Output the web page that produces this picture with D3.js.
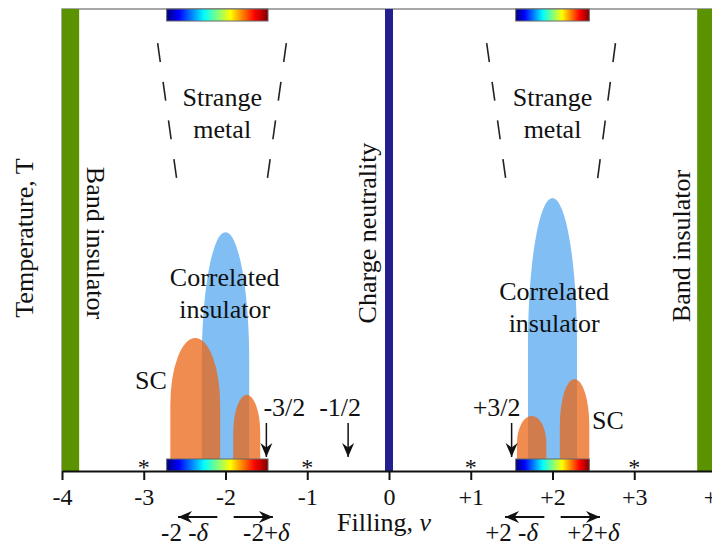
<!DOCTYPE html>
<html>
<head>
<meta charset="utf-8">
<script src="https://cdn.jsdelivr.net/npm/d3@7"></script>
<style>
  body { margin: 0; background: #fff; }
</style>
</head>
<body>
<svg id="chart" width="712" height="547"></svg>
<script>
// filling axis
var fillingTicks = [-4, -3, -2, -1, 0, 1, 2, 3, 4];
var tickLabels = ["-4", "-3", "-2", "-1", "0", "+1", "+2", "+3", "+4"];

// correlated insulator domes (filling centre, half width, top temperature)
var insulatorCentres = [-2.0, 2.0];
var insulatorHalfWidths = [0.29, 0.30];
var insulatorTops = [51.7, 59.1];

// superconducting domes
var scCentres = [-2.37, -1.74, 1.745, 2.27];
var scHalfWidths = [0.305, 0.165, 0.18, 0.18];
var scTops = [28.8, 16.5, 11.9, 19.9];

// integer fillings marked with a star, half-integer fillings marked with an arrow
var starFillings = [-3, -1, 1, 3];
var arrowFillings = [-1.5, -0.5, 1.5];
var arrowLabels = ["-3/2", "-1/2", "+3/2"];

// colour bars and band insulator strips (filling ranges)
var colorbarRanges = [[-2.72, -1.48], [1.55, 2.45]];
var bandRanges = [[-4, -3.79], [3.77, 4]];

// strange metal boundaries: filling at the top and at the bottom of each dashed line
var strangeTopT = 92.6, strangeBottomT = 61.7;
var strangeLines = [[-2.83, -2.585], [-1.256, -1.50], [1.195, 1.44], [2.77, 2.54]];

var FONT = "Liberation Serif";
var svg = d3.select("#chart").attr("font-family", FONT);
var x = d3.scaleLinear().domain([-4, 4]).range([62, 716]);
var y = d3.scaleLinear().domain([0, 100]).range([471, 9]);

var defs = svg.append("defs");
var jet = defs.append("linearGradient").attr("id", "jet");
[["0", "#00007f"], ["0.12", "#0000ff"], ["0.37", "#00ffff"], ["0.5", "#7fff7f"],
 ["0.63", "#ffff00"], ["0.87", "#ff0000"], ["1", "#7f0000"]].forEach(function(s) {
  jet.append("stop").attr("offset", s[0]).attr("stop-color", s[1]);
});
defs.append("marker").attr("id", "head").attr("markerUnits", "userSpaceOnUse")
  .attr("viewBox", "-15 -7 16 14").attr("refX", 0).attr("refY", 0)
  .attr("markerWidth", 16).attr("markerHeight", 14).attr("orient", "auto")
  .append("path").attr("d", "M0,0L-14,-6L-9.5,0L-14,6Z").attr("fill", "#111");

function domePath(c, hw, top, frac) {
  var x0 = x(c - hw), x1 = x(c + hw), yb = y(0), yt = y(top), ys = y(top * frac);
  var rx = (x1 - x0) / 2, ry = ys - yt;
  return "M" + x0 + "," + yb + "L" + x0 + "," + ys +
    "A" + rx + "," + ry + " 0 0 1 " + x1 + "," + ys + "L" + x1 + "," + yb + "Z";
}

// frame
svg.append("path").attr("d", "M" + x(-4) + "," + y(0) + "V" + y(100) + "H712")
  .attr("fill", "none").attr("stroke", "#8a8a8a").attr("stroke-width", 1.5);

// correlated insulator
svg.selectAll(".ci").data(insulatorCentres).enter().append("path")
  .attr("d", function(d, i) { return domePath(d, insulatorHalfWidths[i], insulatorTops[i], 0.46); })
  .attr("fill", "#80bef4");

// superconductor
svg.selectAll(".sc").data(scCentres).enter().append("path")
  .attr("d", function(d, i) { return domePath(d, scHalfWidths[i], scTops[i], 0.5); })
  .attr("fill", "rgb(235,102,22)").attr("fill-opacity", 0.75);

// band insulators and charge neutrality
svg.selectAll(".band").data(bandRanges).enter().append("rect")
  .attr("x", function(d) { return x(d[0]); }).attr("width", function(d) { return x(d[1]) - x(d[0]); })
  .attr("y", y(100)).attr("height", y(0) - y(100)).attr("fill", "#5b9200");
svg.append("rect").attr("x", x(0) - 4).attr("width", 8).attr("y", y(100)).attr("height", y(0) - y(100))
  .attr("fill", "#231f91");

// colour bars, top and bottom
colorbarRanges.forEach(function(r) {
  [y(100), y(0) - 12].forEach(function(top) {
    svg.append("rect").attr("x", x(r[0])).attr("width", x(r[1]) - x(r[0]))
      .attr("y", top).attr("height", 12).attr("fill", "url(#jet)")
      .attr("stroke", "#666").attr("stroke-width", 1);
  });
});

// strange metal boundaries
svg.selectAll(".sm").data(strangeLines).enter().append("line")
  .attr("x1", function(d) { return x(d[0]); }).attr("y1", y(strangeTopT))
  .attr("x2", function(d) { return x(d[1]); }).attr("y2", y(strangeBottomT))
  .attr("stroke", "#222").attr("stroke-width", 1.6).attr("stroke-dasharray", "19,20");

// axis
var axis = svg.append("g").attr("transform", "translate(0," + y(0) + ")")
  .call(d3.axisBottom(x).tickValues(fillingTicks).tickFormat(function(d, i) { return tickLabels[i]; })
    .tickSize(9).tickSizeOuter(0).tickPadding(8))
  .attr("font-family", FONT).attr("font-size", 24);
axis.select(".domain").attr("stroke", "#111").attr("stroke-width", 2);
axis.selectAll(".tick line").attr("stroke", "#111").attr("stroke-width", 2);
axis.selectAll(".tick text").attr("fill", "#111").attr("font-family", FONT);

// stars
svg.selectAll(".star").data(starFillings).enter().append("text")
  .attr("x", function(d) { return x(d); }).attr("y", 475).attr("text-anchor", "middle")
  .attr("font-family", FONT).attr("font-size", 24).attr("fill", "#111").text("*");

// half filling arrows
var labelShift = [18, -8, -15];
svg.selectAll(".harrow").data(arrowFillings).enter().append("line")
  .attr("x1", function(d) { return x(d); }).attr("x2", function(d) { return x(d); })
  .attr("y1", 423).attr("y2", 457).attr("stroke", "#111").attr("stroke-width", 1.5)
  .attr("marker-end", "url(#head)");
svg.selectAll(".hlabel").data(arrowFillings).enter().append("text")
  .attr("x", function(d, i) { return x(d) + labelShift[i]; }).attr("y", 416)
  .attr("text-anchor", "middle").attr("font-family", FONT).attr("font-size", 26).attr("fill", "#111")
  .text(function(d, i) { return arrowLabels[i]; });

// doping arrows under the axis
[-2, 2].forEach(function(c) {
  [-1, 1].forEach(function(s) {
    svg.append("line").attr("x1", x(c + s * 0.1)).attr("x2", x(c + s * 0.58))
      .attr("y1", 517).attr("y2", 517).attr("stroke", "#111").attr("stroke-width", 2)
      .attr("marker-end", "url(#head)");
    var t = svg.append("text").attr("x", x(c + s * 0.5)).attr("y", 541)
      .attr("text-anchor", "middle").attr("font-family", FONT).attr("font-size", 25).attr("fill", "#111");
    t.append("tspan").text((c < 0 ? "-2" : "+2") + (s < 0 ? " -" : "+"));
    t.append("tspan").attr("font-style", "italic").text("\u03b4");
  });
});

// labels
function label(px, py, lines, size, anchor, rot) {
  var t = svg.append("text").attr("font-family", FONT).attr("font-size", size)
    .attr("text-anchor", anchor || "middle").attr("fill", "#111")
    .attr("transform", "translate(" + px + "," + py + ")" + (rot ? " rotate(" + rot + ")" : ""));
  lines.forEach(function(l, i) { t.append("tspan").attr("x", 0).attr("dy", i ? "1.22em" : 0).text(l); });
  return t;
}
label(x(-2.04), 106, ["Strange", "metal"], 26);
label(x(2.0), 106, ["Strange", "metal"], 26);
label(x(-2.01), 286, ["Correlated", "insulator"], 26);
label(x(2.02), 300, ["Correlated", "insulator"], 26);
label(135, 389, ["SC"], 26, "start");
label(592, 429, ["SC"], 26, "start");
label(87, 243, ["Band insulator"], 26, "middle", 90);
label(690, 246, ["Band insulator"], 26, "middle", -90);
label(376, 233, ["Charge neutrality"], 26, "middle", -90);
label(33, 238, ["Temperature, T"], 26, "middle", -90);

var fl = svg.append("text").attr("x", 384).attr("y", 531).attr("text-anchor", "middle")
  .attr("font-family", FONT).attr("font-size", 26).attr("fill", "#111");
fl.append("tspan").text("Filling, ");
fl.append("tspan").attr("font-style", "italic").text("\u03bd");
</script>
</body>
</html>
